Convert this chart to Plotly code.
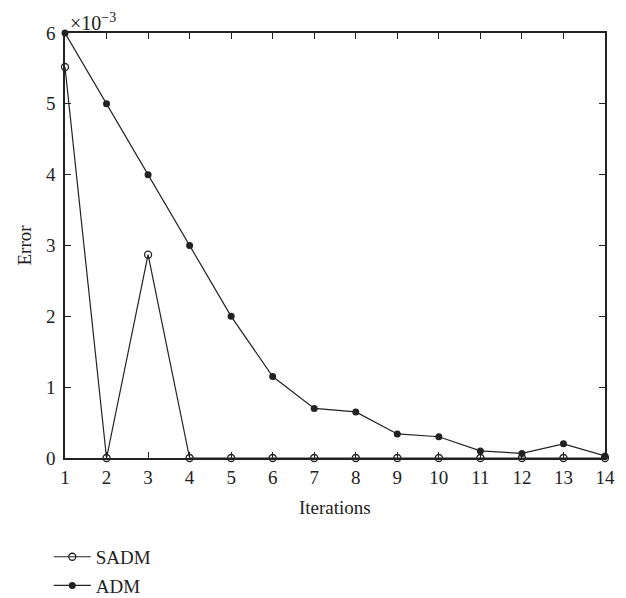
import plotly.graph_objects as go

iterations = list(range(1, 15))
sadm_error = [5.52e-3, 0, 2.87e-3, 0, 0, 0, 0, 0, 0, 0, 0, 0, 0, 0]
adm_error = [6.0e-3, 5.0e-3, 4.0e-3, 3.0e-3, 2.0e-3, 1.15e-3, 0.70e-3, 0.65e-3,
             0.34e-3, 0.30e-3, 0.10e-3, 0.065e-3, 0.20e-3, 0.03e-3]
y_tickvals = [0, 1e-3, 2e-3, 3e-3, 4e-3, 5e-3, 6e-3]
y_ticktext = ["0", "1", "2", "3", "4", "5", "6"]

font = dict(family="Liberation Serif, Times New Roman, serif", size=19, color="#222")

fig = go.Figure()
fig.add_trace(go.Scatter(
    x=iterations, y=sadm_error, name="SADM", mode="lines+markers", legendgroup="a",
    line=dict(color="#222", width=1.2),
    marker=dict(symbol="circle-open", size=7, color="#222", line=dict(width=1.3)),
    cliponaxis=False,
))
fig.add_trace(go.Scatter(
    x=iterations, y=adm_error, name="ADM", mode="lines+markers", legendgroup="b",
    line=dict(color="#222", width=1.2),
    marker=dict(symbol="circle", size=7, color="#222"),
    cliponaxis=False,
))

axis_common = dict(showline=True, linecolor="#222", linewidth=1.6, mirror="ticks",
                   ticks="inside", ticklen=6, tickcolor="#222", tickwidth=1,
                   showgrid=False, zeroline=False, tickfont=font, automargin=False)

# the page body has an 8px default margin, so the figure is laid out 8px up/left
fig.update_layout(
    template="none",
    width=626, height=610,
    margin=dict(l=57, r=29, t=25, b=160),
    paper_bgcolor="white", plot_bgcolor="white",
    font=font,
    showlegend=True,
    legend=dict(x=-0.03, xanchor="left", y=-0.188, yanchor="top",
                orientation="v", font=font, itemwidth=37, traceorder="grouped",
                bgcolor="rgba(0,0,0,0)", tracegroupgap=1),
    xaxis=dict(range=[1, 14], tickvals=iterations, ticklabelstandoff=1, **axis_common),
    yaxis=dict(range=[0, 6e-3], tickvals=y_tickvals, ticktext=y_ticktext,
               ticklabelstandoff=4, **axis_common),
    annotations=[
        dict(text="×10<sup>−3</sup>", xref="paper", yref="paper", x=0.0, y=1.0,
             xanchor="left", yanchor="bottom", showarrow=False,
             font=dict(family=font["family"], size=20, color="#222"), xshift=3, yshift=-3),
        dict(text="Iterations", xref="paper", yref="paper", x=0.5, y=0.0,
             xanchor="center", yanchor="middle", showarrow=False, font=font, yshift=-49),
        dict(text="Error", xref="paper", yref="paper", x=0.0, y=0.5, textangle=-90,
             xanchor="center", yanchor="middle", showarrow=False, font=font, xshift=-41),
    ],
)

fig.write_html("out.html")
